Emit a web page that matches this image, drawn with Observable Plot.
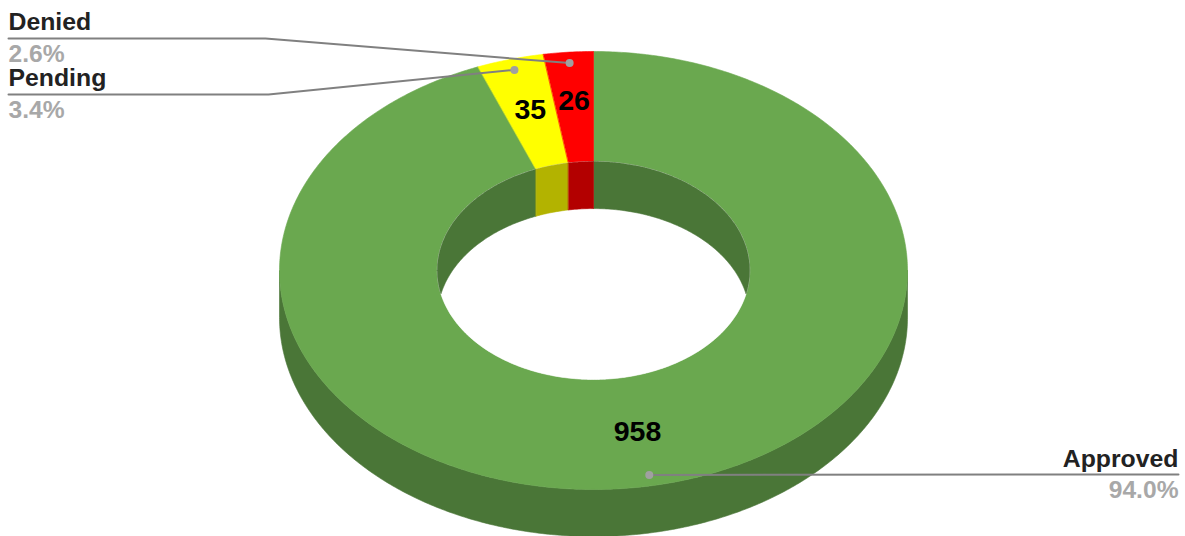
<!DOCTYPE html>
<html>
<head>
<meta charset="utf-8">
<script src="https://cdn.jsdelivr.net/npm/d3@7"></script>
<script src="https://cdn.jsdelivr.net/npm/@observablehq/plot@0.6"></script>
<style>html,body{margin:0;padding:0;background:#fff}svg{display:block}</style>
</head>
<body>
<div id="chart"></div>
<script>
// Data, clockwise from 12 o'clock
const categories = ["Approved", "Pending", "Denied"];
const values = [958, 35, 26];
const percents = ["94.0%", "3.4%", "2.6%"];
const topColors = ["#6aa84f", "#ffff00", "#ff0000"];
const wallColors = ["#4a7637", "#b3b300", "#b30000"];

// Layout
const W = 1185, H = 536;
const cx = 593, cy = 270, rx = 314, ry = 219, hole = 0.4975, depth = 47;
const valueRadius = [0.75, 0.76, 0.776];
const dotRadius = 0.95;
const labelFont = {fontFamily: "Liberation Sans, Arial, sans-serif", fontWeight: "bold"};
const leaderLayout = [
  {elbow: null, end: [1178, 474], side: "end", nameY: 459, pctY: 490},
  {elbow: [268, 94], end: [8, 94], side: "start", nameY: 78, pctY: 110},
  {elbow: [265, 38], end: [8, 38], side: "start", nameY: 22, pctY: 54}
];

const TAU = 2 * Math.PI;
const total = d3.sum(values);
let acc = 0;
const slices = categories.map((name, i) => {
  const a0 = acc / total * TAU;
  acc += values[i];
  return {name, i, a0, a1: acc / total * TAU};
});
const at = (t, r = 1, dy = 0) => ({
  x: cx + rx * r * Math.sin(t),
  y: cy - ry * r * Math.cos(t) + dy
});
const steps = (a, b) => {
  const n = Math.max(2, Math.ceil(Math.abs(b - a) / 0.01));
  return d3.range(n + 1).map(k => a + (b - a) * k / n);
};
const overlap = (a0, a1, b0, b1) => {
  const s = Math.max(a0, b0), e = Math.min(a1, b1);
  return s < e ? [s, e] : null;
};
const fillPoly = (pts, color) => Plot.line(pts, {
  x: "x", y: "y", fill: color, stroke: color, strokeWidth: 0.6, curve: "linear-closed"
});

const marks = [];

// Outer side wall (front half)
for (const s of slices) {
  const r = overlap(s.a0, s.a1, Math.PI / 2, 3 * Math.PI / 2);
  if (!r) continue;
  const ts = steps(r[0], r[1]);
  marks.push(fillPoly([
    ...ts.map(t => at(t)),
    ...ts.slice().reverse().map(t => at(t, 1, depth))
  ], wallColors[s.i]));
}
// Top face
for (const s of slices) {
  const ts = steps(s.a0, s.a1);
  marks.push(fillPoly([
    ...ts.map(t => at(t)),
    ...ts.slice().reverse().map(t => at(t, hole))
  ], topColors[s.i]));
}
// Hole
marks.push(fillPoly(steps(0, TAU).map(t => at(t, hole)), "#ffffff"));
// Inner wall (back half), limited to the hole's opening
for (const s of slices) {
  for (const k of [0, TAU]) {
    const r = overlap(s.a0, s.a1, k - Math.PI / 2, k + Math.PI / 2);
    if (!r) continue;
    const ts = steps(r[0], r[1]);
    marks.push(fillPoly([
      ...ts.map(t => at(t, hole)),
      ...ts.slice().reverse().map(t => {
        const p = at(t, hole);
        return {x: p.x, y: Math.min(p.y + depth, 2 * cy - p.y)};
      })
    ], wallColors[s.i]));
  }
}
// Values on the slices
const mid = s => (s.a0 + s.a1) / 2;
marks.push(Plot.text(slices, {
  x: s => at(mid(s), valueRadius[s.i]).x,
  y: s => at(mid(s), valueRadius[s.i]).y,
  text: s => String(values[s.i]),
  fill: "#000",
  fontSize: 28.5,
  ...labelFont
}));
// Leaders
for (const s of slices) {
  const l = leaderLayout[s.i];
  const start = at(mid(s), dotRadius);
  const pts = [start];
  if (l.elbow) pts.push({x: l.elbow[0], y: l.elbow[1]});
  pts.push({x: l.end[0], y: l.end[1]});
  marks.push(Plot.line(pts, {x: "x", y: "y", stroke: "#808080", strokeWidth: 2}));
  marks.push(Plot.dot([start], {x: "x", y: "y", r: 4, fill: "#a0a0a0", stroke: "none"}));
  marks.push(Plot.text([s.name], {
    x: () => l.end[0], y: () => l.nameY, text: d => d, textAnchor: l.side,
    fill: "#222222", fontSize: 24.8, ...labelFont
  }));
  marks.push(Plot.text([percents[s.i]], {
    x: () => l.end[0], y: () => l.pctY, text: d => d, textAnchor: l.side,
    fill: "#a8a8a8", fontSize: 24.6, ...labelFont
  }));
}

const chart = Plot.plot({
  width: W, height: H,
  margin: 0,
  x: {domain: [0, W], range: [0, W], axis: null},
  y: {domain: [0, H], range: [0, H], axis: null},
  style: {background: "#fff"},
  marks
});
document.getElementById("chart").append(chart);
</script>
</body>
</html>
